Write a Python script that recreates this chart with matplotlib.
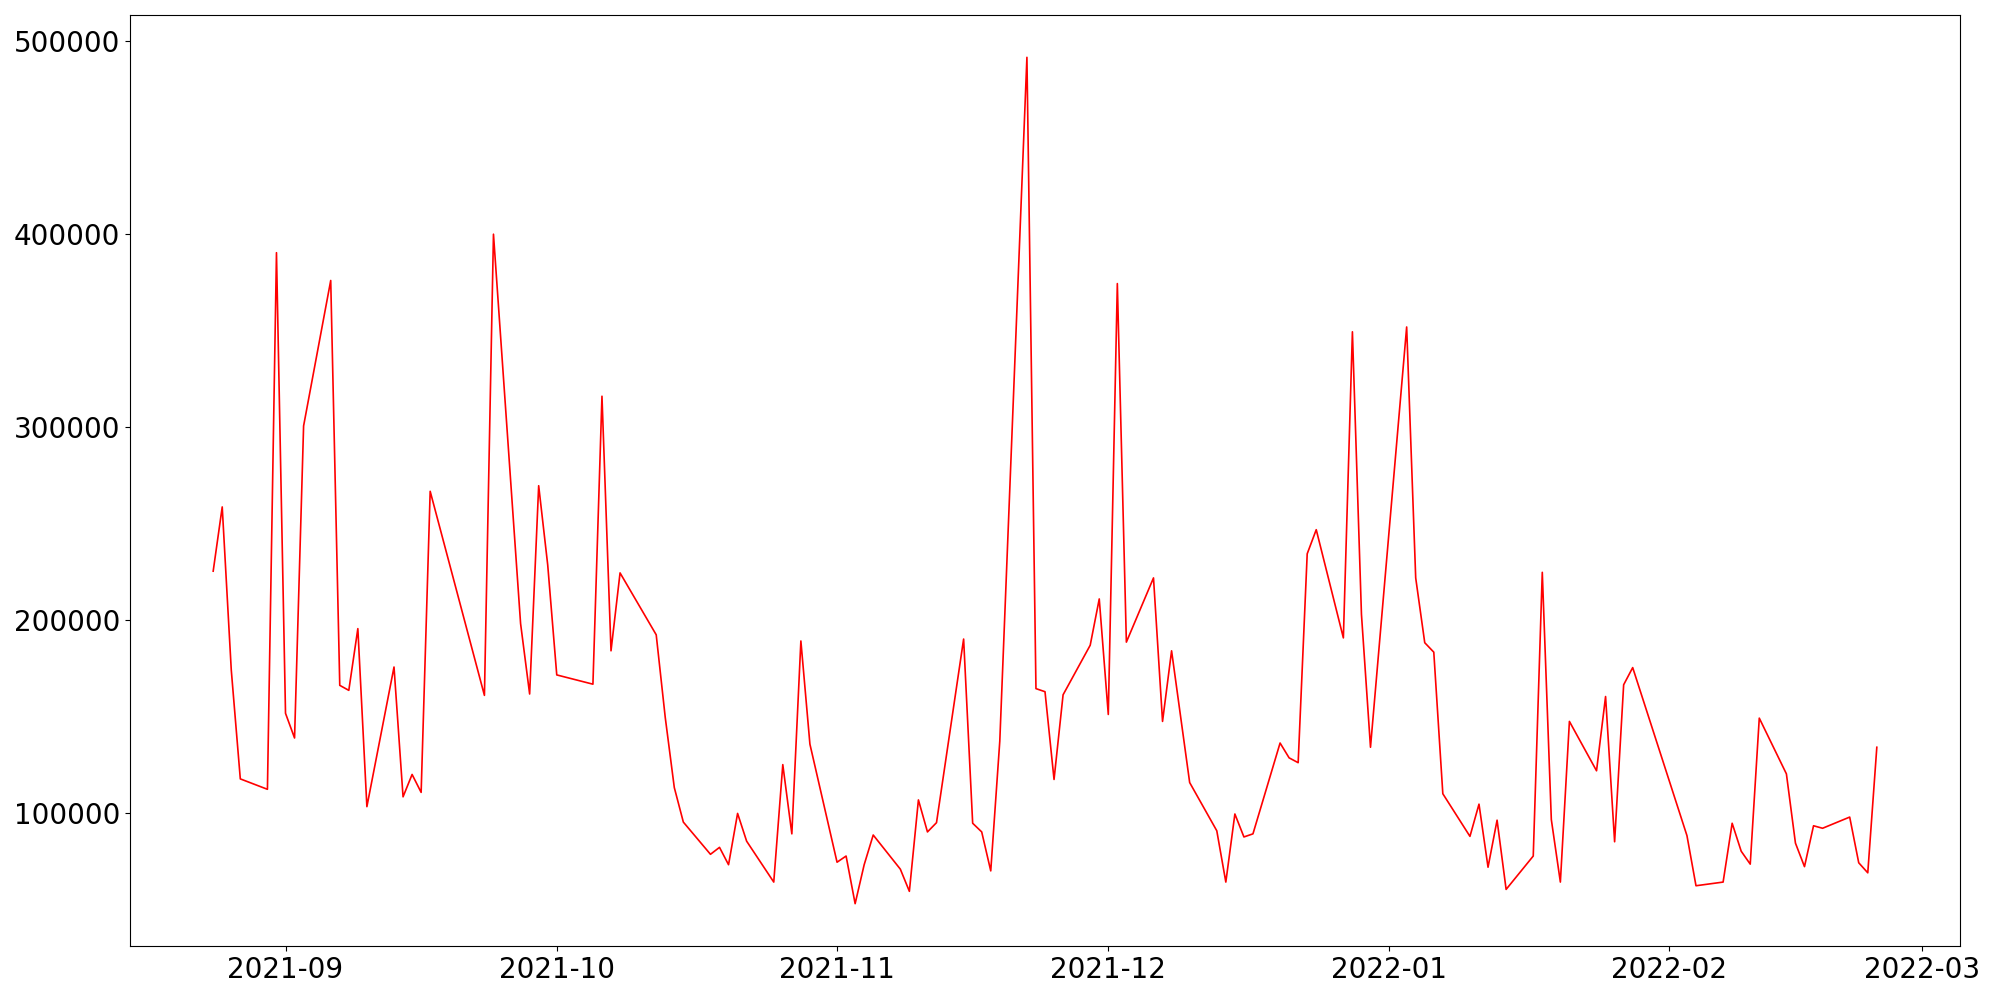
import pandas as pd
import matplotlib.pyplot as plt

dates = [
    "2021-08-24", "2021-08-25", "2021-08-26", "2021-08-27",
    "2021-08-30", "2021-08-31", "2021-09-01", "2021-09-02", "2021-09-03",
    "2021-09-06", "2021-09-07", "2021-09-08", "2021-09-09", "2021-09-10",
    "2021-09-13", "2021-09-14", "2021-09-15", "2021-09-16", "2021-09-17",
    "2021-09-23", "2021-09-24",
    "2021-09-27", "2021-09-28", "2021-09-29", "2021-09-30", "2021-10-01",
    "2021-10-05", "2021-10-06", "2021-10-07", "2021-10-08",
    "2021-10-12", "2021-10-13", "2021-10-14", "2021-10-15",
    "2021-10-18", "2021-10-19", "2021-10-20", "2021-10-21", "2021-10-22",
    "2021-10-25", "2021-10-26", "2021-10-27", "2021-10-28", "2021-10-29",
    "2021-11-01", "2021-11-02", "2021-11-03", "2021-11-04", "2021-11-05",
    "2021-11-08", "2021-11-09", "2021-11-10", "2021-11-11", "2021-11-12",
    "2021-11-15", "2021-11-16", "2021-11-17", "2021-11-18", "2021-11-19",
    "2021-11-22", "2021-11-23", "2021-11-24", "2021-11-25", "2021-11-26",
    "2021-11-29", "2021-11-30", "2021-12-01", "2021-12-02", "2021-12-03",
    "2021-12-06", "2021-12-07", "2021-12-08", "2021-12-10",
    "2021-12-13", "2021-12-14", "2021-12-15", "2021-12-16", "2021-12-17",
    "2021-12-20", "2021-12-21", "2021-12-22", "2021-12-23", "2021-12-24",
    "2021-12-27", "2021-12-28", "2021-12-29", "2021-12-30",
    "2022-01-03", "2022-01-04", "2022-01-05", "2022-01-06", "2022-01-07",
    "2022-01-10", "2022-01-11", "2022-01-12", "2022-01-13", "2022-01-14",
    "2022-01-17", "2022-01-18", "2022-01-19", "2022-01-20", "2022-01-21",
    "2022-01-24", "2022-01-25", "2022-01-26", "2022-01-27", "2022-01-28",
    "2022-02-03", "2022-02-04",
    "2022-02-07", "2022-02-08", "2022-02-09", "2022-02-10", "2022-02-11",
    "2022-02-14", "2022-02-15", "2022-02-16", "2022-02-17", "2022-02-18",
    "2022-02-21", "2022-02-22", "2022-02-23", "2022-02-24",
]

values = [
    225200, 258500, 174000, 117500,
    112100, 390300, 151500, 138700, 300500,
    375900, 166000, 163400, 195400, 103100,
    175500, 108200, 119800, 110500, 266600,
    160800, 399900,
    198000, 161500, 269500, 228400, 171400,
    166600, 315900, 183900, 224300,
    192200, 149300, 113000, 95100,
    78400, 82000, 73000, 99600, 85200,
    64000, 124900, 89000, 189000, 135500,
    74300, 77500, 52800, 73000, 88400,
    70700, 59200, 106600, 90000, 94800,
    190000, 94500, 90000, 69800, 137100,
    491600, 164300, 162700, 117200, 161100,
    186800, 210800, 150900, 374300, 188400,
    221700, 147300, 183900, 115600,
    90600, 64000, 99300, 87400, 89000,
    136100, 128400, 125900, 234200, 246700,
    190600, 349300, 202800, 133900,
    351800, 221700, 188100, 183200, 109800,
    87700, 104400, 71700, 96100, 60200,
    77500, 224600, 96400, 64000, 147300,
    121700, 160200, 84900, 166300, 175200,
    88100, 62100,
    64000, 94500, 80000, 73300, 149000,
    120100, 84200, 72000, 93200, 91900,
    97700, 74000, 68800, 133900,
]

df = pd.DataFrame({"date": pd.to_datetime(dates), "value": values})

fig, ax = plt.subplots(figsize=(20, 10), dpi=100)
ax.plot(df["date"], df["value"], color="red", linewidth=1.2)
ax.tick_params(axis="both", labelsize=20)
plt.subplots_adjust(left=0.065, right=0.98, bottom=0.054, top=0.985)
plt.savefig("out.png")
plt.close()
